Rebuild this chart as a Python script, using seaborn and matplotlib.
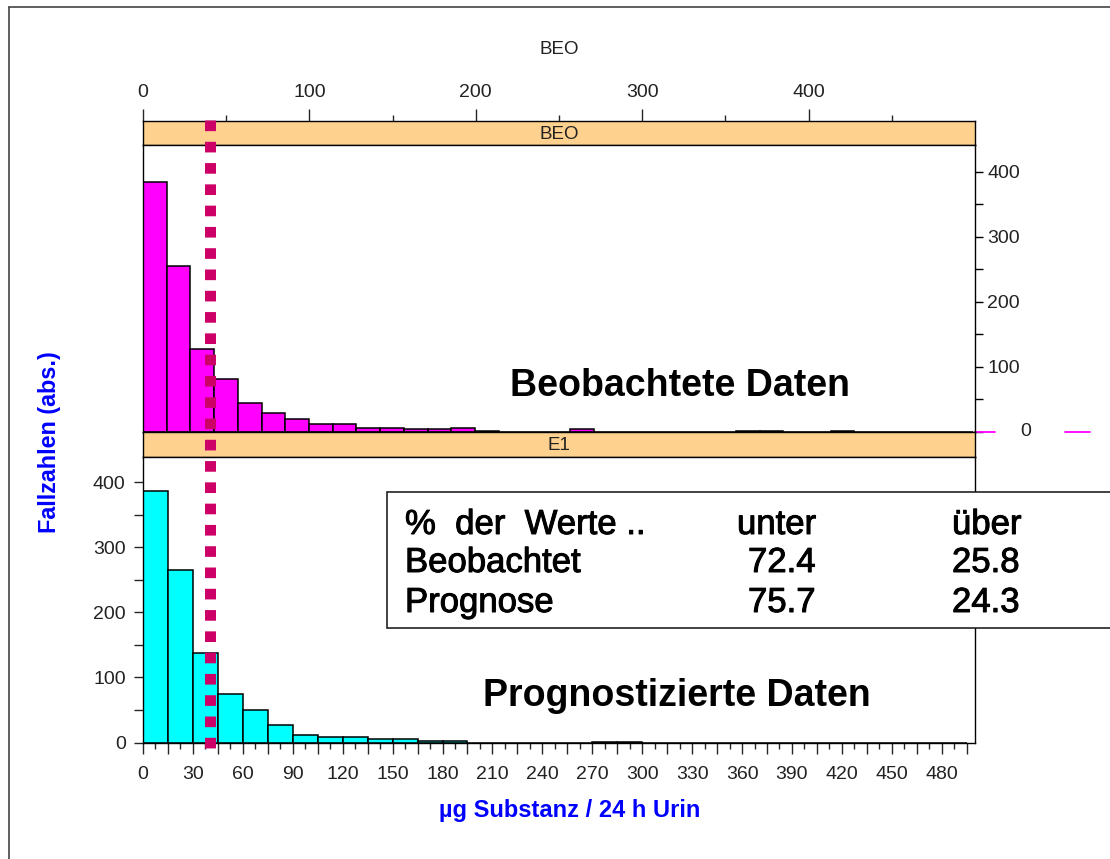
import numpy as np
import pandas as pd
import matplotlib
matplotlib.use("Agg")
import matplotlib.pyplot as plt
import matplotlib.transforms as mtrans
import matplotlib.patheffects as pe
from matplotlib.lines import Line2D
from matplotlib.patches import Rectangle
from matplotlib.ticker import MultipleLocator, FixedLocator, FuncFormatter
import seaborn as sns

# ---- data -------------------------------------------------------------
# observed values (BEO): counts per histogram bin
beo_bin_width = 14.25
beo_counts = [385, 256, 127, 82, 45, 29, 20, 12, 12, 6,
              6, 4, 4, 6, 2, 0, 0, 0, 5, 0,
              0, 0, 0, 0, 0, 2, 2, 0, 0, 2,
              0, 0, 0, 0, 0]

# predicted values (E1): counts per histogram bin
e1_bin_width = 15
e1_counts = [387, 265, 137, 74, 50, 27, 12, 8, 8, 5,
             5, 2, 2, 0, 0, 0, 0, 0, 1, 1,
             0, 0, 0, 0, 0, 0, 0, 0, 0, 0,
             0, 0, 0]

threshold = 40          # reference value, µg / 24 h
x_max = 500
top_axis_major = [0, 100, 200, 300, 400]
top_axis_minor = [50, 150, 250, 350, 450]

table_header = ["%  der  Werte ..", "unter", "über"]
table_labels = ["Beobachtet", "Prognose"]
pct_below = [72.4, 75.7]
pct_above = [25.8, 24.3]

panel_titles = ["BEO", "E1"]
panel_texts = ["Beobachtete Daten", "Prognostizierte Daten"]

# ---- style ------------------------------------------------------------
sns.set_theme(style="white")
plt.rcParams["font.family"] = ["Liberation Sans", "DejaVu Sans"]
plt.rcParams["axes.edgecolor"] = "black"
plt.rcParams["axes.linewidth"] = 1.0

W, H = 1110, 859
fig = plt.figure(figsize=(W / 100, H / 100), dpi=100)
fig.patch.set_facecolor("white")


def box(x0, y0, x1, y1):
    """Axes rectangle from pixel corners (origin top-left)."""
    return [x0 / W, 1 - y1 / H, (x1 - x0) / W, (y1 - y0) / H]


def fx(x):
    return x / W


def fy(y):
    return 1 - y / H


PL, PR = 143, 975


def ax_frac(x):
    return (x - PL) / (PR - PL)


ax_ts = fig.add_axes(box(PL, 121, PR, 145))
ax_top = fig.add_axes(box(PL, 145, PR, 432))
ax_bs = fig.add_axes(box(PL, 432, PR, 457))
ax_bot = fig.add_axes(box(PL, 457, PR, 742.5))

tick_color = "#222222"
tick_size = 14
strip_color = "#FFD18F"


def hist_frame(counts, width):
    edges = [i * width for i in range(len(counts) + 1)]
    df = pd.DataFrame({"x": np.array(edges[:-1]) + width / 2, "n": counts})
    return df, edges


# ---- top panel: observed ---------------------------------------------
df_beo, edges_beo = hist_frame(beo_counts, beo_bin_width)
sns.histplot(data=df_beo, x="x", weights="n", bins=edges_beo, ax=ax_top,
             color="#FF00FF", edgecolor="black", linewidth=1.1, alpha=1)
ax_top.set_xlim(0, x_max)
ax_top.set_ylim(0, 441.5)
ax_top.set_xlabel("")
ax_top.set_ylabel("")
ax_top.set_xticks([])
ax_top.yaxis.tick_right()
ax_top.yaxis.set_major_locator(MultipleLocator(50))
ax_top.yaxis.set_major_formatter(
    FuncFormatter(lambda v, p: f"{int(v)}" if v % 100 == 0 and v > 0 else ""))
ax_top.tick_params(axis="y", right=True, left=False, direction="out",
                   length=5.8, width=1, colors="black", labelcolor=tick_color,
                   labelsize=tick_size, pad=3)
for s in ax_top.spines.values():
    s.set_color("black")
blend_top = mtrans.blended_transform_factory(ax_top.transAxes, ax_top.transData)
ax_top.text(ax_frac(1026), 0, "0", transform=blend_top, ha="center", va="center",
            fontsize=tick_size, color=tick_color, clip_on=False)
for xa, xb in [(ax_frac(975), ax_frac(995)), (ax_frac(1065), ax_frac(1090))]:
    ax_top.add_line(Line2D([xa, xb], [0, 0], transform=blend_top, color="#FF00FF",
                           lw=1.3, clip_on=False))

# top strip with upper value axis
ax_ts.set_facecolor(strip_color)
ax_ts.set_xlim(0, x_max)
ax_ts.set_ylim(0, 1)
ax_ts.set_yticks([])
ax_ts.xaxis.tick_top()
ax_ts.xaxis.set_major_locator(FixedLocator(top_axis_major))
ax_ts.xaxis.set_minor_locator(FixedLocator(top_axis_minor))
ax_ts.xaxis.set_major_formatter(FuncFormatter(lambda v, p: f"{int(v)}"))
ax_ts.tick_params(axis="x", which="major", top=True, bottom=False, direction="out",
                  length=8.6, width=1, labelcolor=tick_color, labelsize=tick_size, pad=6)
ax_ts.tick_params(axis="x", which="minor", top=True, bottom=False, direction="out",
                  length=4.3, width=1)
ax_ts.text(0.5, 0.45, panel_titles[0], transform=ax_ts.transAxes, ha="center",
           va="center", fontsize=13.5, color=tick_color)

# ---- bottom panel: predicted -----------------------------------------
df_e1, edges_e1 = hist_frame(e1_counts, e1_bin_width)
sns.histplot(data=df_e1, x="x", weights="n", bins=edges_e1, ax=ax_bot,
             color="#00FFFF", edgecolor="black", linewidth=1.1, alpha=1)
ax_bot.set_xlim(0, x_max)
ax_bot.set_ylim(0, 439.2)
ax_bot.set_xlabel("")
ax_bot.set_ylabel("")
ax_bot.xaxis.set_major_locator(MultipleLocator(15))
ax_bot.xaxis.set_minor_locator(MultipleLocator(7.5))
ax_bot.xaxis.set_major_formatter(
    FuncFormatter(lambda v, p: f"{int(round(v))}" if round(v) % 30 == 0 else ""))
ax_bot.yaxis.set_major_locator(MultipleLocator(50))
ax_bot.yaxis.set_major_formatter(
    FuncFormatter(lambda v, p: f"{int(v)}" if v % 100 == 0 else ""))
ax_bot.tick_params(axis="x", which="major", bottom=True, direction="out", length=8,
                   width=1, labelcolor=tick_color, labelsize=tick_size, pad=9)
ax_bot.tick_params(axis="x", which="minor", bottom=True, direction="out", length=4.3,
                   width=1)
ax_bot.tick_params(axis="y", left=True, direction="out", length=6.5, width=1,
                   labelcolor=tick_color, labelsize=tick_size, pad=6)

ax_bs.set_facecolor(strip_color)
ax_bs.set_xlim(0, x_max)
ax_bs.set_xticks([])
ax_bs.set_yticks([])
ax_bs.text(0.5, 0.45, panel_titles[1], transform=ax_bs.transAxes, ha="center",
           va="center", fontsize=13.5, color=tick_color)

# ---- reference line across both panels -------------------------------
blend_ref = mtrans.blended_transform_factory(ax_bot.transData, fig.transFigure)
ref = Line2D([threshold, threshold], [fy(119.5), fy(748)], transform=blend_ref,
             color="#CC0066", lw=7.9, dash_capstyle="butt", zorder=10)
ref.set_linestyle((0, (0.97, 0.97)))
fig.add_artist(ref)

# ---- texts -------------------------------------------------------------
fig.text(fx(559), fy(50), "BEO", ha="center", va="center", fontsize=13.5,
         color=tick_color)
fig.text(fx(680.5), fy(396), panel_texts[0], ha="center", va="baseline",
         fontsize=27, fontweight="bold", color="black", zorder=6)
fig.text(fx(677), fy(706), panel_texts[1], ha="center", va="baseline",
         fontsize=27, fontweight="bold", color="black", zorder=6)
fig.text(fx(50), fy(442), "Fallzahlen (abs.)", rotation=90, ha="center",
         va="center", fontsize=16.8, fontweight="bold", color="#0000FF")
fig.text(fx(570), fy(810), "µg Substanz / 24 h Urin", ha="center", va="center",
         fontsize=17, fontweight="bold", color="#0000FF")

# summary table
fig.add_artist(Rectangle((fx(387), fy(628)), (1120 - 387) / W, 136 / H,
                         transform=fig.transFigure, facecolor="white",
                         edgecolor="#222222", lw=1.2, zorder=5))
tsize = 25
heavy = [pe.withStroke(linewidth=0.7, foreground="black")]


def table_text(x, y, s):
    fig.text(fx(x), fy(y), s, fontsize=tsize, va="baseline", zorder=6,
             color="black", path_effects=heavy)


table_text(405, 534, table_header[0])
table_text(737, 534, table_header[1])
table_text(952, 534, table_header[2])
for i, base in enumerate([572, 612]):
    table_text(405, base, table_labels[i])
    table_text(748, base, f"{pct_below[i]:.1f}")
    table_text(952, base, f"{pct_above[i]:.1f}")

# outer frame (left and top edges)
fig.add_artist(Line2D([fx(9), fx(9)], [0, fy(7)], transform=fig.transFigure,
                      color="#444444", lw=1.2))
fig.add_artist(Line2D([fx(9), 1], [fy(7), fy(7)], transform=fig.transFigure,
                      color="#444444", lw=1.2))

fig.savefig("out.png", dpi=100)
